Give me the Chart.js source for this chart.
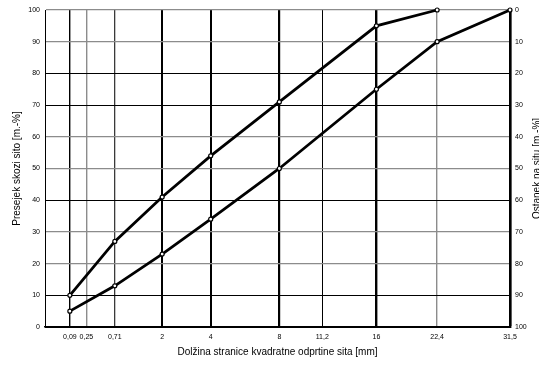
<!DOCTYPE html>
<html>
<head>
<meta charset="utf-8">
<script src="https://cdn.jsdelivr.net/npm/chart.js@4/dist/chart.umd.min.js"></script>
<style>
  html, body { margin: 0; padding: 0; background: #fff; overflow: hidden; }
  canvas { display: block; }
</style>
</head>
<body>
<canvas id="sieveChart" width="539" height="365"></canvas>
<script>
'use strict';

// sieve sizes on the x axis (mm) and how they are printed
var sieves = [0.09, 0.25, 0.71, 2, 4, 8, 11.2, 16, 22.4, 31.5];
var sieveLabels = ['0,09', '0,25', '0,71', '2', '4', '8', '11,2', '16', '22,4', '31,5'];

// measured points of both grading limits (passing, m.-%)
var pointSizes = [0.09, 0.71, 2, 4, 8, 16, 22.4, 31.5];
var upperPassing = [10, 27, 41, 54, 71, 95, 100, null];
var lowerPassing = [5, 13, 23, 34, 50, 75, 90, 100];

// grid styles
var vGridColors = ['#000', '#8c8c8c', '#3a3a3a', '#000', '#000', '#000', '#000', '#000', '#8c8c8c', '#000'];
var vGridWidths = [1.4, 1.4, 1.3, 2, 2, 2.2, 1, 2.4, 1.4, 2.4];
var hGridDark = [0, 10, 40, 70, 80];

var fontFamily = '"Liberation Sans", Arial, sans-serif';

// square root scale, as used on grading curve charts
class SqrtScale extends Chart.LinearScale {
  getPixelForValue(value) {
    var lo = Math.sqrt(this.min), hi = Math.sqrt(this.max);
    return this.getPixelForDecimal((Math.sqrt(value) - lo) / (hi - lo));
  }
  getValueForPixel(pixel) {
    var lo = Math.sqrt(this.min), hi = Math.sqrt(this.max);
    var s = lo + this.getDecimalForPixel(pixel) * (hi - lo);
    return s * s;
  }
}
SqrtScale.id = 'sqrt';
SqrtScale.defaults = Chart.LinearScale.defaults;
Chart.register(SqrtScale);

function toPoints(values) {
  return pointSizes.map(function (x, i) { return { x: x, y: values[i] }; });
}

// right hand title reads bottom to top like the left one
var rightTitle = {
  id: 'rightTitle',
  afterDraw: function (chart) {
    var ctx = chart.ctx;
    var area = chart.chartArea;
    ctx.save();
    ctx.translate(chart.width - 2, (area.top + area.bottom) / 2);
    ctx.rotate(-Math.PI / 2);
    ctx.font = '10px ' + fontFamily;
    ctx.fillStyle = '#000';
    ctx.textAlign = 'center';
    ctx.textBaseline = 'middle';
    ctx.fillText('Ostanek na situ [m.-%]', 0, 0);
    ctx.restore();
  }
};

var lineStyle = {
  borderColor: '#000',
  borderWidth: 2.8,
  pointRadius: 2,
  pointBorderWidth: 1.2,
  pointBorderColor: '#000',
  pointBackgroundColor: '#fff',
  tension: 0,
  fill: false,
  clip: 6
};

var ctx = document.getElementById('sieveChart').getContext('2d');
new Chart(ctx, {
  type: 'line',
  data: {
    datasets: [
      Object.assign({ label: 'zgornja meja', data: toPoints(upperPassing) }, lineStyle),
      Object.assign({ label: 'spodnja meja', data: toPoints(lowerPassing) }, lineStyle)
    ]
  },
  plugins: [rightTitle],
  options: {
    responsive: false,
    animation: false,
    devicePixelRatio: 1,
    layout: { padding: { top: 10, left: 0, right: 0, bottom: 0 } },
    plugins: {
      legend: { display: false },
      tooltip: { enabled: false }
    },
    scales: {
      x: {
        type: 'sqrt',
        min: 0,
        max: 31.5,
        afterBuildTicks: function (axis) {
          axis.ticks = sieves.map(function (v) { return { value: v }; });
        },
        afterFit: function (axis) { axis.height = 38; },
        ticks: {
          autoSkip: false,
          maxRotation: 0,
          padding: 6,
          color: '#000',
          font: { family: fontFamily, size: 7 },
          callback: function (value, index) { return sieveLabels[index]; }
        },
        grid: {
          drawTicks: false,
          color: function (c) { return vGridColors[c.index]; },
          lineWidth: function (c) { return vGridWidths[c.index]; }
        },
        border: { color: '#000', width: 1.5 },
        title: {
          display: true,
          text: 'Dolžina stranice kvadratne odprtine sita [mm]',
          color: '#000',
          font: { family: fontFamily, size: 10 },
          padding: { top: 0, bottom: 7 }
        }
      },
      y: {
        position: 'left',
        min: 0,
        max: 100,
        afterFit: function (axis) { axis.width = 45; },
        ticks: {
          stepSize: 10,
          padding: 5,
          color: '#000',
          font: { family: fontFamily, size: 7 }
        },
        grid: {
          drawTicks: false,
          color: function (c) { return hGridDark.indexOf(c.tick.value) >= 0 ? '#000' : '#8c8c8c'; },
          lineWidth: function (c) { return hGridDark.indexOf(c.tick.value) >= 0 ? 1 : 1.3; }
        },
        border: { color: '#000', width: 1 },
        title: {
          display: true,
          text: 'Presejek skozi sito [m.-%]',
          color: '#000',
          font: { family: fontFamily, size: 10 },
          padding: { top: 11, bottom: 0 }
        }
      },
      y2: {
        position: 'right',
        min: 0,
        max: 100,
        reverse: true,
        afterFit: function (axis) { axis.width = 29; },
        ticks: {
          stepSize: 10,
          padding: 5,
          color: '#000',
          font: { family: fontFamily, size: 7 }
        },
        grid: { drawOnChartArea: false, drawTicks: false },
        border: { color: '#000', width: 2.4 }
      }
    }
  }
});
</script>
</body>
</html>
